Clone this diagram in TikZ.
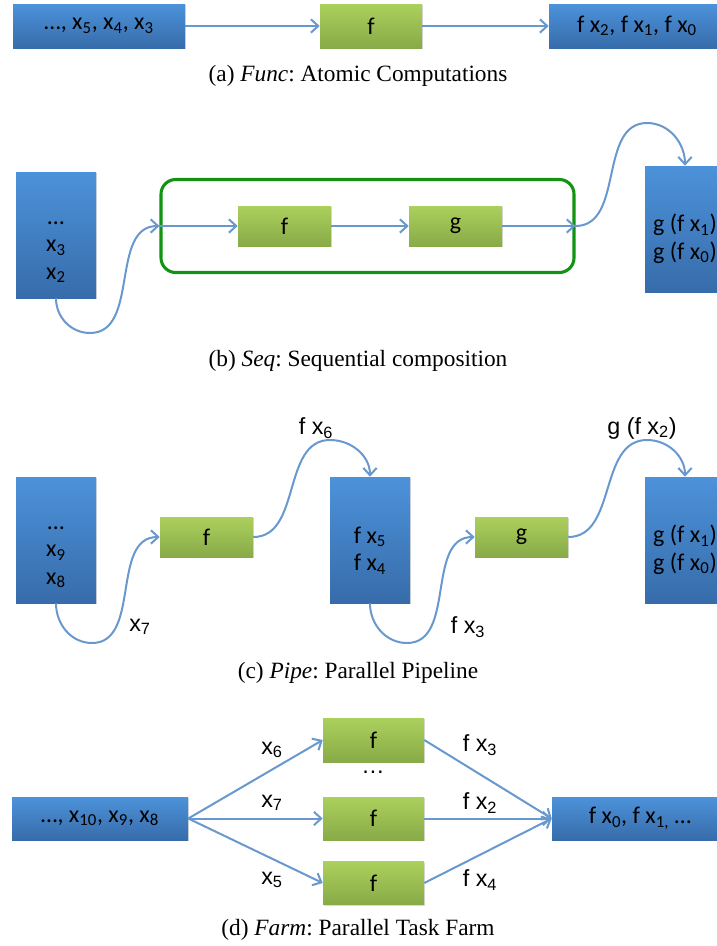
\documentclass[tikz,border=0pt]{standalone}
\usepackage{fontspec}
\setmainfont{Liberation Serif}
\newfontfamily\boxfont{Carlito}
\newfontfamily\lblfont{Liberation Sans}
\usetikzlibrary{arrows.meta,shadows}
\frenchspacing

\definecolor{blueT}{RGB}{76,146,218}
\definecolor{blueB}{RGB}{55,108,170}
\definecolor{greenT}{RGB}{172,208,92}
\definecolor{greenB}{RGB}{136,170,72}
\definecolor{flowblue}{RGB}{104,152,206}
\definecolor{seqgreen}{RGB}{18,148,18}

\newcommand{\idx}[1]{\textsubscript{#1}}
\newcommand{\topgap}{\rule{0pt}{28pt}}

\begin{document}
\begin{tikzpicture}[x=0.75pt,y=-0.75pt,
    bluebox/.style={top color=blueT, bottom color=blueB, inner sep=0pt, align=center,
        font=\boxfont\fontsize{18}{20.5}\selectfont,
        drop shadow={shadow xshift=0.8pt, shadow yshift=-1pt, opacity=0.3}},
    greenbox/.style={top color=greenT, bottom color=greenB, inner sep=0pt,
        font=\boxfont\fontsize{18}{20.5}\selectfont,
        drop shadow={shadow xshift=0.8pt, shadow yshift=-1pt, opacity=0.3}},
    flow/.style={draw=flowblue, line width=1.5pt, -{Straight Barb[length=5.5pt,width=10pt]}},
    lbl/.style={font=\lblfont\fontsize{17.5}{20}\selectfont, inner sep=0pt},
    caption/.style={font=\fontsize{17.5}{20}\selectfont, inner sep=0pt}]
    \useasboundingbox (0,0) rectangle (717,946);

    % (a) Func
    \node[bluebox, minimum width=129pt, minimum height=33pt] (ain) at (99,26) {…, x\idx{5}, x\idx{4}, x\idx{3}};
    \node[greenbox, minimum width=76.5pt, minimum height=33pt] (af) at (371,26) {f};
    \node[bluebox, minimum width=132pt, minimum height=33pt] (aout) at (637,26) {f x\idx{2}, f x\idx{1}, f x\idx{0}};
    \draw[flow] (ain) -- (af);
    \draw[flow] (af) -- (aout);
    \node[caption] (capa) at (358,76) {(a) \textit{Func}: Atomic Computations};

    % (b) Seq
    \node[bluebox, minimum width=60pt, minimum height=94.5pt] (bin) at (56,235) {\topgap…\\x\idx{3}\\x\idx{2}};
    \node[draw=seqgreen, line width=2.3pt, rounded corners=11pt,
        minimum width=309.75pt, minimum height=69.75pt] (seq) at (367.5,226) {};
    \node[greenbox, minimum width=69.75pt, minimum height=30pt] (bf) at (284.5,226) {f};
    \node[greenbox, minimum width=69.75pt, minimum height=30pt] (bg) at (455.5,226) {g};
    \node[bluebox, minimum width=60pt, minimum height=94.5pt] (bout) at (685,229) {\topgap g (f x\idx{1})\\g (f x\idx{0})};
    \coordinate (bdip) at (90,333);
    \coordinate (btop) at (647,123);
    \draw[flow] (bin.south) to[out=-90,in=180] (bdip) to[out=0,in=180] (seq.west);
    \draw[flow] (seq.west) -- (bf);
    \draw[flow] (bf) -- (bg);
    \draw[flow] (bg) -- (seq.east);
    \draw[flow] (seq.east) to[out=0,in=180] (btop) to[out=0,in=90] (bout.north);
    \node[caption] (capb) at (358,361) {(b) \textit{Seq}: Sequential composition};

    % (c) Pipe
    \node[bluebox, minimum width=60pt, minimum height=94.5pt] (cin) at (56,540) {\topgap…\\x\idx{9}\\x\idx{8}};
    \node[greenbox, minimum width=69.75pt, minimum height=30pt] (cf) at (206.5,537) {f};
    \node[bluebox, minimum width=60pt, minimum height=94.5pt] (cmid) at (370,540) {\topgap f x\idx{5}\\f x\idx{4}};
    \node[greenbox, minimum width=69.75pt, minimum height=30pt] (cg) at (521.5,537) {g};
    \node[bluebox, minimum width=60pt, minimum height=94.5pt] (cout) at (685,540) {\topgap g (f x\idx{1})\\g (f x\idx{0})};
    \coordinate (cdip1) at (92,643);
    \coordinate (ctop1) at (330,440);
    \coordinate (cdip2) at (407,643);
    \coordinate (ctop2) at (647,440);
    \draw[flow] (cin.south) to[out=-90,in=180] (cdip1) to[out=0,in=180] (cf.west);
    \draw[flow] (cf.east) to[out=0,in=180] (ctop1) to[out=0,in=90] (cmid.north);
    \draw[flow] (cmid.south) to[out=-90,in=180] (cdip2) to[out=0,in=180] (cg.west);
    \draw[flow] (cg.east) to[out=0,in=180] (ctop2) to[out=0,in=90] (cout.north);
    \node[lbl] (lx7) at (140,627) {x\idx{7}};
    \node[lbl] (lfx6) at (316,428) {f x\idx{6}};
    \node[lbl] (lfx3) at (468,627) {f x\idx{3}};
    \node[lbl] (lgfx2) at (642,428) {g (f x\idx{2})};
    \node[caption] (capc) at (358,673) {(c) \textit{Pipe}: Parallel Pipeline};

    % (d) Farm
    \node[bluebox, minimum width=132pt, minimum height=32.25pt] (din) at (100,818.5) {…, x\idx{10}, x\idx{9}, x\idx{8}};
    \node[greenbox, minimum width=75.75pt, minimum height=33pt] (df1) at (373.5,740) {f};
    \node[greenbox, minimum width=75.75pt, minimum height=32.25pt] (df2) at (373.5,818.5) {f};
    \node[greenbox, minimum width=75.75pt, minimum height=32pt] (df3) at (373.5,883) {f};
    \node[bluebox, minimum width=132pt, minimum height=32.25pt] (dout) at (640,818.5) {f x\idx{0}, f x\idx{1,} …};
    \node[lbl] (ddots) at (373,772) {…};
    \draw[flow] (din.east) -- (df1.west);
    \draw[flow] (din.east) -- (df2.west);
    \draw[flow] (din.east) -- (df3.west);
    \draw[flow] (df1.east) -- (dout.west);
    \draw[flow] (df2.east) -- (dout.west);
    \draw[flow] (df3.east) -- (dout.west);
    \node[lbl] (lx6) at (272,750) {x\idx{6}};
    \node[lbl] (lx7d) at (272,803) {x\idx{7}};
    \node[lbl] (lx5) at (272,880) {x\idx{5}};
    \node[lbl] (lfx3d) at (480,745) {f x\idx{3}};
    \node[lbl] (lfx2) at (480,803) {f x\idx{2}};
    \node[lbl] (lfx4) at (480,880) {f x\idx{4}};
    \node[caption] (capd) at (358,930) {(d) \textit{Farm}: Parallel Task Farm};
\end{tikzpicture}
\end{document}
